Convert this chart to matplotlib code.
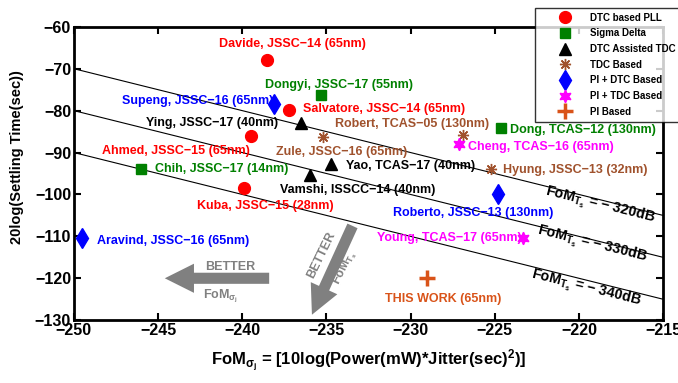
import matplotlib
matplotlib.use("Agg")
import matplotlib.pyplot as plt
import numpy as np

plt.rcParams['font.family'] = ['Liberation Sans', 'DejaVu Sans']
plt.rcParams['font.weight'] = 'bold'
plt.rcParams['mathtext.fontset'] = 'custom'
plt.rcParams['mathtext.rm'] = 'Liberation Sans:bold'
plt.rcParams['mathtext.bf'] = 'Liberation Sans:bold'
plt.rcParams['mathtext.it'] = 'Liberation Sans:bold:italic'
plt.rcParams['mathtext.default'] = 'bf'

# ---- data ----
dtc_pll_x = [-238.5, -237.2, -239.5, -239.9]
dtc_pll_y = [-68.0, -79.8, -86.0, -98.4]
sigma_x = [-235.3, -246.0, -224.6]
sigma_y = [-76.2, -93.9, -84.1]
dtc_tdc_x = [-236.5, -236.0, -234.7]
dtc_tdc_y = [-82.9, -95.3, -92.7]
tdc_x = [-226.9, -235.2, -225.2]
tdc_y = [-85.8, -86.2, -93.9]
pi_dtc_x = [-238.1, -249.5, -224.8]
pi_dtc_y = [-78.4, -110.5, -100.0]
pi_tdc_x = [-227.1, -223.3]
pi_tdc_y = [-87.9, -110.4]
pi_x = [-229.0]
pi_y = [-120.0]

fom_levels = [-320, -330, -340]

legend_names = ['DTC based PLL', 'Sigma Delta', 'DTC Assisted TDC', 'TDC Based',
                'PI + DTC Based', 'PI + TDC Based', 'PI Based']

labels = ['Davide, JSSC\u221214 (65nm)', 'Dongyi, JSSC\u221217 (55nm)',
          'Supeng, JSSC\u221216 (65nm)', 'Salvatore, JSSC\u221214 (65nm)',
          'Ying, JSSC\u221217 (40nm)', 'Robert, TCAS\u221205 (130nm)',
          'Ahmed, JSSC\u221215 (65nm)', 'Zule, JSSC\u221216 (65nm)',
          'Chih, JSSC\u221217 (14nm)', 'Yao, TCAS\u221217 (40nm)',
          'Vamshi, ISSCC\u221214 (40nm)', 'Dong, TCAS\u221212 (130nm)',
          'Cheng, TCAS\u221216 (65nm)', 'Hyung, JSSC\u221213 (32nm)',
          'Kuba, JSSC\u221215 (28nm)', 'Roberto, JSSC\u221213 (130nm)',
          'Aravind, JSSC\u221216 (65nm)', 'Young, TCAS\u221217 (65nm)',
          'THIS WORK (65nm)']

red = '#FF0000'
green = '#008000'
brown = '#A0522D'
blue = '#0000FF'
magenta = '#FF00FF'
orange = '#D95319'

label_colors = [red, green, blue, red, 'black', brown, red, brown, green, 'black',
                'black', green, magenta, brown, red, blue, blue, magenta, orange]
label_x = [-241.4, -238.65, -247.15, -236.4, -245.7, -234.5, -248.35, -238.0, -245.2,
           -233.85, -237.75, -224.1, -226.6, -224.5, -242.7, -231.05, -248.6, -232.0, -231.5]
label_y = [-64.1, -73.8, -77.7, -79.6, -82.9, -83.1, -89.6, -89.8, -93.9,
           -93.2, -98.9, -84.6, -88.6, -94.1, -102.7, -104.4, -111.1, -110.4, -124.9]

fig = plt.figure(figsize=(6.78, 3.83), dpi=100)
ax = fig.add_axes([0.109, 0.164, 0.869, 0.766])

xs = np.array([-250, -215])
for lv in fom_levels:
    ax.plot(xs, lv - xs, color='black', lw=0.8, zorder=1)

h = []
h.append(ax.plot(dtc_pll_x, dtc_pll_y, 'o', color=red, ms=8.5, ls='none', zorder=3)[0])
h.append(ax.plot(sigma_x, sigma_y, 's', color=green, ms=6.5, ls='none', zorder=3)[0])
h.append(ax.plot(dtc_tdc_x, dtc_tdc_y, '^', color='black', ms=9, ls='none', zorder=3)[0])
h.append(ax.plot(tdc_x, tdc_y, marker=(8, 2, 0), color=brown, ms=8, mew=1.0, ls='none', zorder=3)[0])
h.append(ax.plot(pi_dtc_x, pi_dtc_y, 'd', color=blue, ms=10, ls='none', zorder=3)[0])
h.append(ax.plot(pi_tdc_x, pi_tdc_y, marker=(6, 1, 0), color=magenta, ms=9, ls='none', zorder=3)[0])
h.append(ax.plot(pi_x, pi_y, '+', color=orange, ms=11, mew=2.5, ls='none', zorder=3)[0])

for t, c, x, y in zip(labels, label_colors, label_x, label_y):
    ax.text(x, y, t, color=c, fontsize=9.0, fontweight='bold', ha='left', va='center', zorder=4)

# FoM_Ts labels
fom_txt_x = [-218.75, -219.2, -219.6]
fom_txt_y = [-102.5, -112.0, -122.3]
for lv, x, y in zip(fom_levels, fom_txt_x, fom_txt_y):
    ax.text(x, y, 'FoM$_{T_s}$ = \u2212 %ddB' % (-lv), fontsize=10.3, fontweight='bold',
            rotation=-14, ha='center', va='center', rotation_mode='anchor', color='black')

grey = '#808080'
ax.annotate('', xy=(-244.6, -120.0), xytext=(-238.4, -120.0),
            arrowprops=dict(arrowstyle='simple,head_length=21,head_width=21,tail_width=8',
                            mutation_scale=1, color=grey, shrinkA=0, shrinkB=0, lw=0))
ax.text(-240.7, -117.3, 'BETTER', color=grey, fontsize=9, fontweight='bold', ha='center', va='center')
ax.text(-241.3, -124.3, 'FoM$_{\\sigma_j}$', color=grey, fontsize=9, fontweight='bold', ha='center', va='center')

ax.annotate('', xy=(-235.86, -128.7), xytext=(-233.45, -107.5),
            arrowprops=dict(arrowstyle='simple,head_length=21,head_width=21,tail_width=8',
                            mutation_scale=1, color=grey, shrinkA=0, shrinkB=0, lw=0))
ax.text(-235.3, -114.4, 'BETTER', color=grey, fontsize=9, fontweight='bold', ha='center', va='center',
        rotation=64, rotation_mode='anchor')
ax.text(-233.9, -117.5, 'FoM$_{T_s}$', color=grey, fontsize=9, fontweight='bold', ha='center', va='center',
        rotation=64, rotation_mode='anchor')

ax.set_xlim(-250, -215)
ax.set_ylim(-130, -60)
xt = np.arange(-250, -214, 5)
yt = np.arange(-130, -59, 10)
ax.set_xticks(xt)
ax.set_yticks(yt)
ax.set_xticklabels(['\u2212%d' % (-v) for v in xt])
ax.set_yticklabels(['\u2212%d' % (-v) for v in yt])
ax.tick_params(direction='in', top=True, right=True, length=5, width=1.5, labelsize=11.5, pad=2)
for lab in ax.get_xticklabels() + ax.get_yticklabels():
    lab.set_fontweight('bold')
for s in ax.spines.values():
    s.set_linewidth(2)

ax.set_xlabel('FoM$_{\\sigma_{j}}$ = [10log(Power(mW)*Jitter(sec)$^{2}$)]', fontsize=12, fontweight='bold')
ax.xaxis.set_label_coords(0.5, -0.095)
ax.set_ylabel('20log(Settling Time(sec))', fontsize=10.5, fontweight='bold')
ax.yaxis.set_label_coords(-0.085, 0.556)

leg = fig.legend(h, legend_names, loc='upper left', bbox_to_anchor=(535 / 678, 1 - 8 / 383),
                 borderaxespad=0, frameon=True, fancybox=False, edgecolor='black',
                 handlelength=5.1, handletextpad=0.1, borderpad=0.5, labelspacing=0.58,
                 prop={'weight': 'bold', 'size': 7.0})
leg.get_frame().set_linewidth(1.0)
leg.set_zorder(10)

fig.savefig('out.png', dpi=100)
